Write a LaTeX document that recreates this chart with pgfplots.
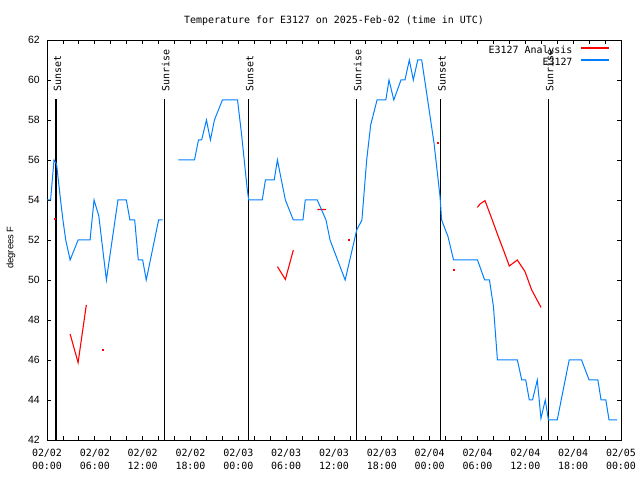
\documentclass[border=0pt]{standalone}
\usepackage{fontspec}
\usepackage{pgfplots}
\usepackage{pgfplotstable}
\pgfplotsset{compat=1.18}
\setmainfont{DejaVu Sans Mono}
\newfontfamily\labelfont{Liberation Sans}
\definecolor{obsblue}{RGB}{0,128,255}
\definecolor{anared}{RGB}{255,0,0}
\newcommand\gfont{\fontsize{10}{13}\selectfont}

% hours since 02/02 00:00 UTC, degrees F
\pgfplotstableread{
h v
0 54
0.45 54
0.88 56
1.2 55.8
1.7 54
2.0 53
2.35 52
2.9 51
3.9 52
5.4 52
5.9 54
6.5 53.2
7.45 50
8.9 54
9.95 54
10.4 53
11.0 53
11.45 51
12.0 51
12.45 50
14.0 53
14.5 53
15.5 nan
16.47 56
18.5 56
19.0 57
19.4 57
20.0 58
20.5 57
21.0 58
22.0 59
23.9 59
24.4 57.3
25.1 54.6
25.3 54
27.0 54
27.4 55
28.5 55
28.9 56
29.9 54
30.9 53
32.1 53
32.4 54
33.9 54
35.0 53
35.5 52
37.4 50
38.85 52.5
39.5 53
40.1 56
40.6 57.75
41.4 59
42.5 59
42.9 60
43.5 59
44.4 60
44.9 60
45.45 61
45.95 60
46.5 61
47.0 61
47.75 59
48.55 56.83
49.3 54.17
49.5 53
50.3 52.17
51.0 51
53.2 51
54.0 51
54.9 50
55.5 50
56.0 48.67
56.5 46
59.0 46
59.55 45
60.05 45
60.5 44
60.9 44
61.5 45
61.96 43.08
62.5 44
62.9 43
64.0 43
65.5 46
67.05 46
68.0 45
69.1 45
69.5 44
70.1 44
70.5 43
71.5 43
}\obs

\pgfplotstableread{
h v
2.9 47.3
3.9 45.87
4.93 48.75
5.5 nan
28.9 50.67
29.9 50.03
30.9 51.5
31.5 nan
33.9 53.525
35.0 53.525
35.5 nan
53.98 53.63
54.32 53.8
54.94 53.97
55.78 53.08
56.61 52.17
57.33 51.42
57.99 50.7
58.99 51.0
59.96 50.42
60.8 49.5
61.97 48.63
}\ana

\pgfplotstableread{
h v
0.92 53.08
6.94 46.53
37.9 52.03
48.96 56.88
51.0 50.5
}\anadots

\begin{document}
\begin{tikzpicture}
\path[use as bounding box] (0,0) rectangle (640bp,480bp);
\begin{axis}[
  at={(47bp,40bp)}, anchor=south west,
  width=574bp, height=400bp, scale only axis,
  xmin=0, xmax=72, ymin=42, ymax=62,
  unbounded coords=jump,
  xtick={0,6,...,72},
  minor x tick num=2,
  xticklabels={{02/02\\00:00},{02/02\\06:00},{02/02\\12:00},{02/02\\18:00},
    {02/03\\00:00},{02/03\\06:00},{02/03\\12:00},{02/03\\18:00},
    {02/04\\00:00},{02/04\\06:00},{02/04\\12:00},{02/04\\18:00},{02/05\\00:00}},
  ytick={42,44,...,62},
  tick align=inside,
  major tick length=4bp, minor tick length=4bp,
  every tick/.style={black, line width=0.8bp},
  axis line style={line width=0.8bp},
  /pgf/number format/assume math mode=true,
  xticklabel style={font=\gfont, align=center, inner sep=0pt, anchor=north, yshift=-9bp},
  yticklabel style={font=\labelfont\fontsize{10.5}{12}\selectfont, inner sep=0pt, anchor=east, xshift=-7bp},
  title={Temperature for E3127 on 2025-Feb-02 (time in UTC)},
  title style={font=\gfont, at={(0.5,1)}, anchor=center, yshift=13bp},
  ylabel={degrees F},
  ylabel style={font=\labelfont\fontsize{9.5}{11}\selectfont, at={(axis description cs:-0.0627,0.481)}, anchor=center},
  legend style={at={(rel axis cs:1,1)}, anchor=north east, xshift=-11bp, yshift=-6bp,
    draw=none, fill=none, inner sep=0pt, row sep=2.3bp, column sep=7.5bp,
    nodes={inner sep=0pt, font=\gfont, text height=7.5bp, text depth=2.5bp}},
  legend cell align=right,
  legend plot pos=right,
  legend image code/.code={\draw[#1] (0bp,3.5bp) -- (28bp,3.5bp);},
]
\addlegendimage{anared, line width=1.8bp}
\addlegendentry{E3127 Analysis}
\addlegendimage{obsblue, line width=1.3bp}
\addlegendentry{E3127}
% sunset / sunrise markers
\addplot[black, line width=1.2bp, forget plot] coordinates {(1.13,42) (1.13,59.05)};
\addplot[black, line width=1.2bp, forget plot] coordinates {(14.71,42) (14.71,59.05)};
\addplot[black, line width=1.2bp, forget plot] coordinates {(25.25,42) (25.25,59.05)};
\addplot[black, line width=1.2bp, forget plot] coordinates {(38.80,42) (38.80,59.05)};
\addplot[black, line width=1.2bp, forget plot] coordinates {(49.38,42) (49.38,59.05)};
\addplot[black, line width=1.2bp, forget plot] coordinates {(62.88,42) (62.88,59.05)};
\node[rotate=90, anchor=base west, inner sep=0pt, font=\gfont] at ([xshift=5bp]axis cs:1.13,59.4) {Sunset};
\node[rotate=90, anchor=base west, inner sep=0pt, font=\gfont] at ([xshift=5bp]axis cs:14.71,59.4) {Sunrise};
\node[rotate=90, anchor=base west, inner sep=0pt, font=\gfont] at ([xshift=5bp]axis cs:25.25,59.4) {Sunset};
\node[rotate=90, anchor=base west, inner sep=0pt, font=\gfont] at ([xshift=5bp]axis cs:38.80,59.4) {Sunrise};
\node[rotate=90, anchor=base west, inner sep=0pt, font=\gfont] at ([xshift=5bp]axis cs:49.38,59.4) {Sunset};
\node[rotate=90, anchor=base west, inner sep=0pt, font=\gfont] at ([xshift=5bp]axis cs:62.88,59.4) {Sunrise};

\addplot[anared, line width=1.1bp, forget plot] table[x=h, y=v] {\ana};
\addplot[anared, only marks, mark=square*, mark size=0.5bp, forget plot] table[x=h, y=v] {\anadots};
\addplot[obsblue, line width=1bp, forget plot] table[x=h, y=v] {\obs};
\end{axis}
\end{tikzpicture}
\end{document}
